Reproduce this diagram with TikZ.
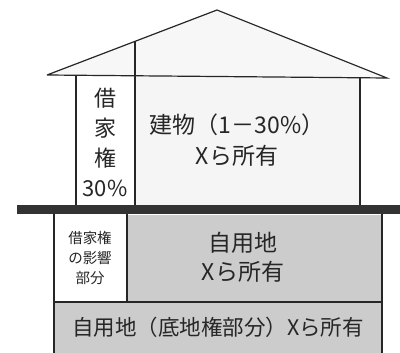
\documentclass[tikz,border=0pt]{standalone}
\usepackage{fontspec}
\setmainfont{Noto Sans CJK JP}
\begin{document}
\begin{tikzpicture}[x=1pt,y=-1pt,
  edge/.style={draw=black!85,line width=1.2pt},
  grayfill/.style={fill=black!20},
  big/.style={font=\fontsize{23}{26}\selectfont,text=black!85},
  small/.style={font=\fontsize{14.5}{20}\selectfont,text=black!85,align=center},
  vert/.style={font=\fontsize{22}{30}\selectfont,text=black!85,align=center}]
\useasboundingbox (0,0) rectangle (400,353);
% building body
\fill[black!4] (76,76) rectangle (360,207);
\fill[white] (76,76) rectangle (135,207);
% roof
\coordinate (el) at (47,75);
\coordinate (pk) at (217,10);
\coordinate (er) at (387,78);
\coordinate (rv) at (135,41);
\fill[black!3] (el) -- (pk) -- (er) -- cycle;
\draw[edge,line join=miter] (el) -- (pk) -- (er) -- (el);
\draw[edge] (rv) -- (135,207);
\draw[edge] (76,76) -- (76,207);
\draw[edge] (360,77) -- (360,207);
% ground
\fill[grayfill] (127,215) rectangle (382,302);
\fill[grayfill] (54,302) rectangle (382,353);
\fill[white] (54,215) rectangle (127,302);
\draw[edge] (54,213) -- (54,353);
\draw[edge] (382,213) -- (382,353);
\draw[edge] (127,213) -- (127,302);
\draw[edge] (54,302) -- (382,302);
% ground bar
\fill[black!80] (17,205) rectangle (400,214);
% texts
\node[vert] (lease) at (105,142) {借\\家\\権\\30\%};
\node[big,align=center] (bldg) at (237,140) {建物（1－30\%）\\[5pt]Xら所有};
\node[small] (infl) at (90,258) {借家権\\の影響\\部分};
\node[big,align=center] (own) at (243,257) {自用地\\[3pt]Xら所有};
\node[font=\fontsize{21.5}{24}\selectfont,text=black!85] (base) at (218,327) {自用地（底地権部分）Xら所有};
\end{tikzpicture}
\end{document}
